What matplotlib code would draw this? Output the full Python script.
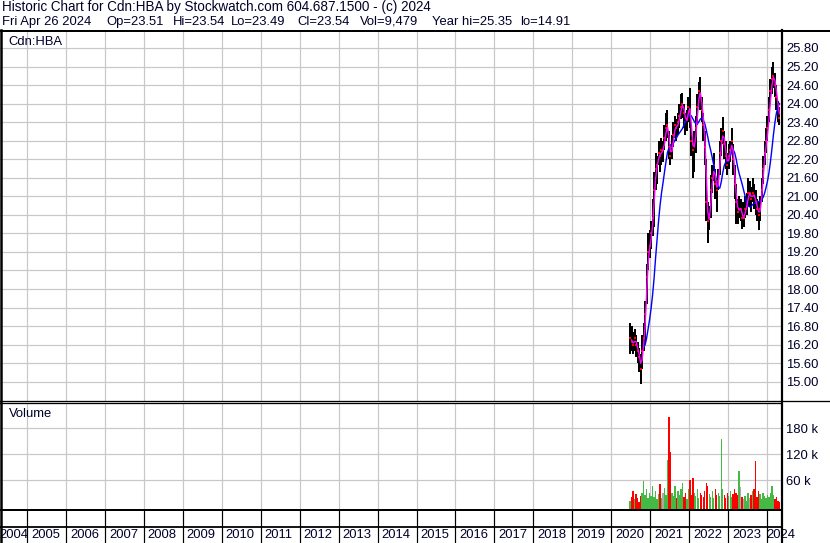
import numpy as np
import pandas as pd
import matplotlib
matplotlib.use("Agg")
import matplotlib.pyplot as plt
from matplotlib.lines import Line2D

W, H = 830, 543

# two-week bars, late Jun 2020 -> Apr 26 2024
close = [16.4, 16.3, 16.2, 16.4, 16.2, 16.0, 15.8, 15.4, 16.0, 16.4,
         17.2, 18.4, 19.2, 19.4, 19.8, 20.3, 21.2, 21.9, 22.0, 22.4,
         22.3, 22.5, 22.5, 22.9, 23.2, 23.3, 22.6, 22.3, 22.6, 23.0,
         23.3, 23.2, 23.4, 23.6, 23.9, 24.0, 23.7, 23.4, 23.5, 23.9,
         23.8, 22.8, 22.5, 22.7, 23.2, 23.9, 24.4, 24.3, 23.8, 23.3,
         22.6, 20.8, 20.2, 20.3, 21.2, 21.6, 22.0, 21.4, 21.2, 21.5,
         22.4, 22.8, 23.1, 22.7, 22.3, 22.0, 22.3, 22.5, 22.8, 22.2,
         21.4, 20.8, 20.5, 20.6, 20.6, 20.3, 20.3, 20.6, 20.7, 21.1,
         21.1, 20.9, 21.1, 21.0, 20.8, 20.6, 20.4, 20.6, 21.2, 21.9,
         22.4, 22.8, 23.2, 23.8, 24.4, 24.8, 24.9, 24.6, 24.2, 23.8, 23.54]
high = [16.9, 16.8, 16.6, 16.7, 16.5, 16.3, 16.1, 15.9, 16.5, 16.9,
        17.6, 18.8, 19.8, 19.9, 20.2, 20.9, 21.8, 22.4, 22.3, 22.8,
        22.7, 22.9, 22.8, 23.3, 23.7, 23.8, 23.1, 22.7, 23.0, 23.4,
        23.6, 23.5, 23.7, 24.0, 24.3, 24.35, 24.0, 23.7, 23.8, 24.2,
        24.5, 23.3, 22.9, 23.1, 23.6, 24.3, 24.7, 24.85, 24.2, 23.7,
        23.1, 22.2, 20.8, 20.7, 21.7, 22.0, 22.4, 21.9, 21.6, 21.9,
        22.8, 23.2, 23.57, 23.1, 22.8, 22.4, 22.7, 22.8, 23.2, 22.7,
        22.0, 21.4, 20.9, 21.0, 20.9, 20.8, 20.8, 21.0, 21.1, 21.6,
        21.5, 21.3, 21.6, 21.4, 21.2, 20.9, 20.8, 21.0, 21.6, 22.3,
        22.8, 23.2, 23.6, 24.2, 24.8, 25.2, 25.35, 25.0, 24.6, 24.1, 23.9]
low = [15.9, 16.0, 15.9, 16.0, 15.8, 15.6, 15.3, 14.91, 15.4, 16.0,
       16.3, 17.5, 18.6, 19.0, 19.3, 19.7, 20.0, 21.2, 21.4, 22.0,
       21.8, 22.0, 22.1, 22.5, 22.8, 22.9, 22.2, 22.0, 22.2, 22.6,
       22.9, 22.8, 23.0, 23.2, 23.5, 23.55, 23.2, 23.0, 23.1, 23.4,
       23.2, 22.3, 21.6, 21.8, 22.4, 23.3, 23.9, 23.8, 23.4, 22.8,
       22.0, 20.2, 19.5, 19.9, 20.3, 21.1, 21.5, 20.9, 20.5, 21.2,
       21.7, 22.3, 22.7, 22.2, 21.9, 21.7, 21.9, 22.1, 22.4, 21.7,
       20.9, 20.1, 20.1, 20.3, 20.2, 19.95, 20.0, 20.3, 20.4, 20.7,
       20.7, 20.5, 20.8, 20.6, 20.4, 20.2, 19.9, 20.2, 20.8, 21.4,
       22.0, 22.4, 22.8, 23.4, 24.0, 24.3, 24.5, 24.2, 23.8, 23.4, 23.3]
volume_k = [12, 20, 35, 15, 28, 18, 10, 22, 30, 58,
            25, 40, 18, 30, 22, 45, 20, 35, 15, 28,
            51, 18, 30, 42, 25, 106, 206, 125, 30, 22,
            45, 18, 35, 25, 40, 53, 20, 30, 15, 38,
            60, 25, 64, 30, 22, 40, 18, 30, 25, 20,
            35, 52, 45, 28, 20, 35, 18, 40, 25, 30,
            22, 155, 40, 25, 18, 30, 22, 35, 20, 28,
            40, 30, 25, 81, 44, 20, 15, 22, 12, 30,
            18, 25, 35, 40, 104, 20, 35, 28, 15, 30,
            22, 18, 25, 20, 30, 46, 25, 15, 20, 12, 9.479]

price_ticks = [15.0, 15.6, 16.2, 16.8, 17.4, 18.0, 18.6, 19.2, 19.8, 20.4,
               21.0, 21.6, 22.2, 22.8, 23.4, 24.0, 24.6, 25.2, 25.8]
vol_ticks = [60000, 120000, 180000]
vol_labels = ['60 k', '120 k', '180 k']
years = list(range(2004, 2025))

header1 = "Historic Chart for Cdn:HBA by Stockwatch.com 604.687.1500 - (c) 2024"
header2 = ["Fri Apr 26 2024", "Op=23.51", "Hi=23.54", "Lo=23.49", "Cl=23.54",
           "Vol=9,479", "Year hi=25.35", "lo=14.91"]
header2_px = [2, 106, 173, 231, 297, 360, 432, 520]

plt.rcParams['font.family'] = ['Liberation Sans', 'DejaVu Sans']
plt.rcParams['font.size'] = 9.4
TXT = '#00002a'
GRID = '#c8c8c8'

n = len(close)
t = 2020.485 + np.arange(n) * (2024.318 - 2020.485) / (n - 1)
df = pd.DataFrame({'t': t, 'close': close, 'high': high, 'low': low,
                   'vol': np.array(volume_k) * 1000})
ma_fast = df['close'].rolling(2).mean()
ma_slow = df['close'].rolling(10).mean()
diff = df['close'].diff().fillna(1)
vcol = np.where(diff > 0, '#44b944', np.where(diff < 0, '#ff0000', '#aaaaaa'))

X0 = 2005 - 27 / 38.95
X1 = X0 + 781 / 38.95


def fy(py):
    return 1 - py / H


def px2pt(p):
    return p * 72 / 100


fig = plt.figure(figsize=(W / 100, H / 100), dpi=100)

# price panel
ax = fig.add_axes([0, fy(401), 781 / W, 370 / H])
pmin = 15.0 - (401 - 381.7) / 30.9
pmax = 25.8 + (48 - 31) / 30.9
ax.set_xlim(X0, X1)
ax.set_ylim(pmin, pmax)
for y in years[1:]:
    ax.axvline(y, color=GRID, lw=px2pt(1.2), zorder=0)
for p in price_ticks:
    ax.axhline(p, color=GRID, lw=px2pt(1.2), zorder=0)
ax.vlines(df['t'], df['low'], df['high'], color='black', lw=px2pt(2.0), zorder=2)
ax.plot(df['t'], df['close'], 's', color='#ff0000', ms=1.6, mew=0, zorder=3)
ax.plot(df['t'], ma_slow, color='#0000ff', lw=px2pt(1.4), zorder=4)
ax.plot(df['t'], ma_fast, color='#ff00ff', lw=px2pt(1.4), zorder=5)
ax.yaxis.tick_right()
ax.set_yticks(price_ticks)
ax.set_yticklabels(['%.2f' % p for p in price_ticks], color=TXT)
ax.tick_params(axis='y', length=0, pad=px2pt(5))
ax.set_xticks([])
for s in ax.spines.values():
    s.set_visible(False)

# volume panel
av = fig.add_axes([0, fy(509), 781 / W, (509 - 404) / H])
vscale = 60000 / 25.85
vbot = -(509 - 505.85) * vscale
vtop = (505.85 - 404) * vscale
av.set_xlim(X0, X1)
av.set_ylim(vbot, vtop)
for y in years[1:]:
    av.axvline(y, color=GRID, lw=px2pt(1.2), zorder=0)
for v in vol_ticks:
    av.axhline(v, color=GRID, lw=px2pt(1.2), zorder=0)
av.bar(df['t'], df['vol'] - vbot, bottom=vbot, width=0.034, color=vcol,
       linewidth=0, zorder=2)
av.yaxis.tick_right()
av.set_yticks(vol_ticks)
av.set_yticklabels(vol_labels, color=TXT)
av.tick_params(axis='y', length=0, pad=px2pt(5))
av.set_xticks([])
for s in av.spines.values():
    s.set_visible(False)

# date strip
ad = fig.add_axes([0, 0, 781 / W, 33 / H])
ad.set_xlim(X0, X1)
ad.set_ylim(0, 33)
ad.axis('off')
for y in years[1:]:
    ad.plot([y, y], [0, 33], color='black', lw=px2pt(1.2), clip_on=False)
for y in years:
    if y == years[0]:
        lx = X0 - 1 / 38.95
    elif y == years[-1]:
        lx = y - 1 / 38.95
    else:
        lx = y + 4 / 38.95
    ad.text(lx, 8, str(y), ha='left', va='center', color=TXT, clip_on=False)


# frame lines (pixel coordinates)
def hline(py, x0, x1, w):
    fig.add_artist(Line2D([x0 / W, x1 / W], [fy(py), fy(py)], color='black',
                          lw=px2pt(w), transform=fig.transFigure))


def vline(px, y0, y1, w):
    fig.add_artist(Line2D([px / W, px / W], [fy(y0), fy(y1)], color='black',
                          lw=px2pt(w), transform=fig.transFigure))


hline(30.5, 0, 830, 2)
hline(400.5, 0, 830, 1.3)
hline(403, 0, 781, 1.3)
hline(509.5, 0, 781, 2)
hline(526.8, 0, 781, 1.8)
vline(1, 30, 543, 2.5)
vline(781.5, 30, 543, 2.2)

fig.text(2 / W, fy(7.5), header1, ha='left', va='center', color=TXT,
         fontsize=9.75)
for s, x in zip(header2, header2_px):
    fig.text(x / W, fy(22), s, ha='left', va='center', color=TXT)
fig.text(8 / W, fy(42), 'Cdn:HBA', ha='left', va='center', color=TXT)
fig.text(9 / W, fy(414), 'Volume', ha='left', va='center', color=TXT)

fig.savefig('out.png', dpi=100)
